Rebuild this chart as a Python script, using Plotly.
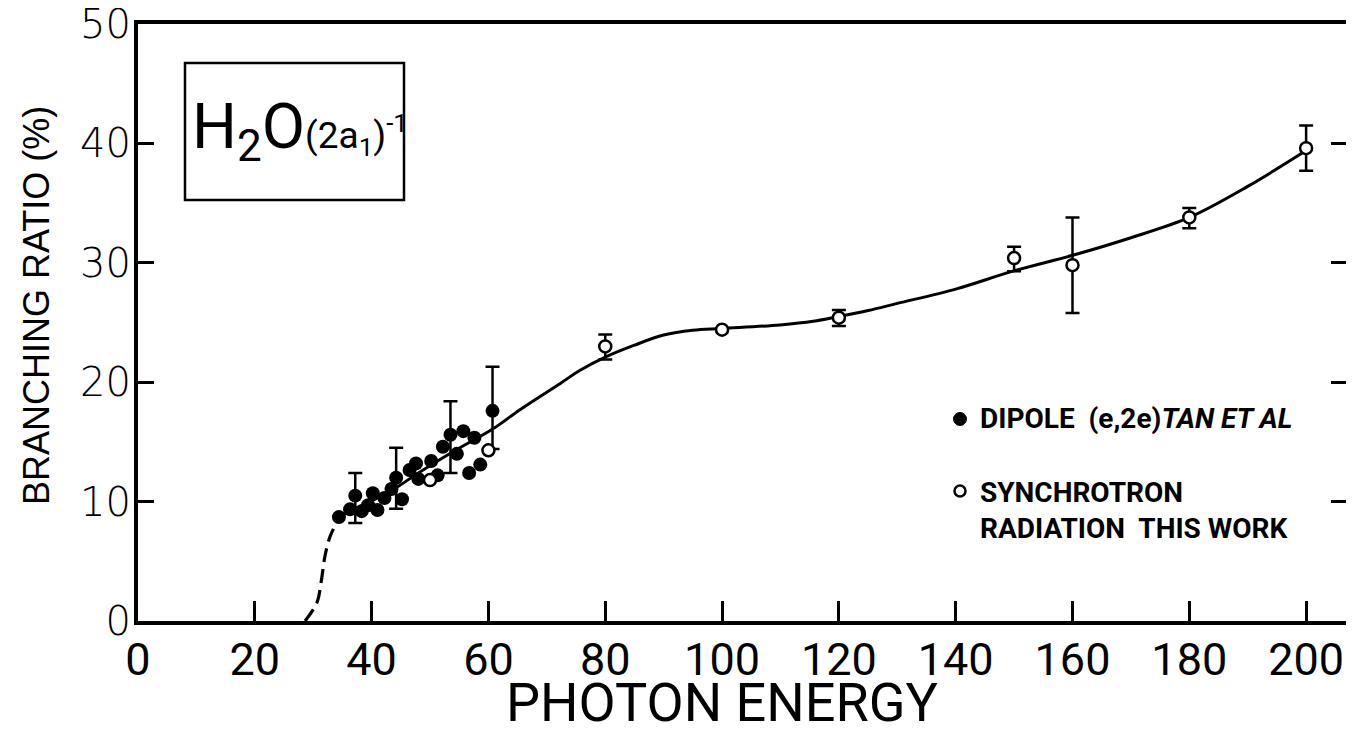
import plotly.graph_objects as go

# ---- data ----
tan_x = [34.4, 36.3, 37.2, 38.3, 39.4, 40.2, 41.0, 42.2, 43.4, 44.2, 45.2, 46.5,
         47.6, 48.0, 50.2, 51.3, 52.2, 53.5, 54.6, 55.7, 56.7, 57.6, 58.6, 60.7]
tan_y = [8.7, 9.35, 10.5, 9.2, 9.7, 10.7, 9.3, 10.3, 11.05, 12.0, 10.2, 12.65,
         13.2, 11.9, 13.4, 12.2, 14.6, 15.6, 14.0, 15.9, 12.4, 15.35, 13.1, 17.6]
tan_err_plus = [None, None, 1.9, None, None, None, None, None, None, 2.5, None, None,
                None, None, None, None, None, 2.8, None, None, None, None, None, 3.7]
tan_err_minus = [None, None, 2.3, None, None, None, None, None, None, 2.6, None, None,
                 None, None, None, None, None, 3.2, None, None, None, None, None, 3.2]

sr_x = [50, 60, 80, 100, 120, 150, 160, 180, 200]
sr_y = [11.8, 14.3, 23.0, 24.4, 25.4, 30.4, 29.8, 33.8, 39.6]
sr_err_plus = [None, None, 1.0, None, 0.65, 0.95, 4.0, 0.8, 1.9]
sr_err_minus = [None, None, 1.1, None, 0.7, 1.1, 4.0, 0.9, 1.9]

curve_x = [34.5, 38, 41, 44, 48, 54, 60.8, 65.4, 72.3, 75.7, 80, 85, 90, 95,
           100, 109.9, 115.6, 120, 125, 130, 140, 149.8, 160.2, 170, 180, 190, 200]
curve_y = [8.8, 9.6, 10.3, 11.1, 12.4, 14.2, 16.1, 17.7, 19.9, 21.0, 22.1, 23.1, 23.95, 24.35,
           24.5, 24.8, 25.1, 25.5, 26.0, 26.6, 27.8, 29.3, 30.65, 32.1, 33.8, 36.4, 39.4]

dash_x = [28.6, 30.6, 31.4, 32.0, 32.9, 34.0]
dash_y = [0.0, 1.5, 3.4, 5.4, 7.1, 8.2]

x_ticks = [0, 20, 40, 60, 80, 100, 120, 140, 160, 180, 200]
x_ticktext = ["0", "20", "40", "60", "80", "100", "120", "140", "160", "180", "200"]
y_ticks = [0, 10, 20, 30, 40, 50]
y_ticktext = ["0", "10", "20", "30", "40", "50"]

NARROW = "Roboto, Liberation Sans, sans-serif"
GEO = "DejaVu Sans, Noto Sans, sans-serif"


def subset(xs, ys, ep, em):
    ox, oy, op, om = [], [], [], []
    for a, b, c, d in zip(xs, ys, ep, em):
        if c is not None:
            ox.append(a); oy.append(b); op.append(c); om.append(d)
    return ox, oy, op, om


fig = go.Figure()

# curves
fig.add_trace(go.Scatter(x=dash_x, y=dash_y, mode="lines",
                         line=dict(color="black", width=3.2, dash="14px,7px", shape="spline"),
                         showlegend=False, hoverinfo="skip"))
fig.add_trace(go.Scatter(x=curve_x, y=curve_y, mode="lines",
                         line=dict(color="black", width=3, shape="spline", smoothing=1.0),
                         showlegend=False, hoverinfo="skip"))

# error bars (only points that have them)
ex, ey, ep, em = subset(tan_x, tan_y, tan_err_plus, tan_err_minus)
fig.add_trace(go.Scatter(x=ex, y=ey, mode="markers", marker=dict(size=1, color="black"),
                         error_y=dict(type="data", symmetric=False, array=ep, arrayminus=em,
                                      color="black", thickness=2.5, width=7),
                         showlegend=False, hoverinfo="skip"))
ex, ey, ep, em = subset(sr_x, sr_y, sr_err_plus, sr_err_minus)
fig.add_trace(go.Scatter(x=ex, y=ey, mode="markers", marker=dict(size=1, color="black"),
                         error_y=dict(type="data", symmetric=False, array=ep, arrayminus=em,
                                      color="black", thickness=2.5, width=7),
                         showlegend=False, hoverinfo="skip"))

# markers
fig.add_trace(go.Scatter(x=tan_x, y=tan_y, mode="markers", name="DIPOLE (e,2e) TAN ET AL",
                         marker=dict(size=14, color="black", line=dict(width=0)), showlegend=False))
fig.add_trace(go.Scatter(x=sr_x, y=sr_y, mode="markers", name="SYNCHROTRON RADIATION THIS WORK",
                         marker=dict(size=12, color="white", line=dict(width=2.5, color="black")),
                         showlegend=False))

# right-side mirrored ticks only
fig.add_trace(go.Scatter(x=[None], y=[None], yaxis="y2", showlegend=False, hoverinfo="skip"))

# page body has an 8px default margin: work in screen pixels, convert to figure pixels
OFF = 8
W, H = 1354 - OFF, 734 - OFF
L, T = 138 - OFF, 24 - OFF
R = W - (1347 - OFF)
B = H - (621 - OFF)
pw = W - L - R
ph = H - T - B


def px(xs):
    return (xs - OFF - L) / pw


def py(ys):
    return (H - B - (ys - OFF)) / ph


fig.update_layout(
    width=W, height=H,
    margin=dict(l=L, r=R, t=T, b=B, autoexpand=False),
    paper_bgcolor="white", plot_bgcolor="white",
    xaxis=dict(range=[0, 207], tickvals=x_ticks, ticktext=x_ticktext, showgrid=False, zeroline=False,
               showline=True, linecolor="black", linewidth=4, mirror=True, automargin=False,
               ticks="inside", ticklen=20, tickwidth=2.5, tickcolor="black", ticklabeloverflow="allow",
               tickfont=dict(family=NARROW, size=45, color="black"), ticklabelstandoff=-4),
    yaxis=dict(range=[0, 50], tickvals=y_ticks, ticktext=y_ticktext, showgrid=False, zeroline=False,
               showline=True, linecolor="black", linewidth=4, mirror=True, automargin=False,
               ticks="inside", ticklen=16, tickwidth=2.5, tickcolor="black", ticklabeloverflow="allow",
               tickfont=dict(family=GEO, size=40, color="black", weight=300), ticklabelstandoff=-5),
    yaxis2=dict(range=[0, 50], overlaying="y", side="right", tickvals=y_ticks, showticklabels=False,
                showgrid=False, zeroline=False, showline=False, automargin=False,
                ticks="inside", ticklen=16, tickwidth=2.5, tickcolor="black"),
    showlegend=False,
)

# inset label box
fig.add_shape(type="rect", xref="paper", yref="paper", x0=px(185), x1=px(404), y0=py(200), y1=py(63),
              line=dict(color="black", width=2.5), fillcolor="white", layer="above")
fig.add_annotation(xref="paper", yref="paper", x=px(300), y=py(131), xanchor="center", yanchor="middle",
                   text='H<sub>2</sub>O<span style="font-size:37px">(2a<sub>1</sub>)<sup>-1</sup></span>',
                   showarrow=False, font=dict(family=NARROW, size=63, color="black"))

# axis titles
fig.add_annotation(xref="paper", yref="paper", x=px(36), y=py(306), textangle=-90,
                   xanchor="center", yanchor="middle", text="BRANCHING RATIO (%)",
                   showarrow=False, font=dict(family="Liberation Sans, Arial, sans-serif", size=36, color="black"))
fig.add_annotation(xref="paper", yref="paper", x=px(722), y=py(702), xanchor="center", yanchor="middle",
                   text="PHOTON ENERGY", showarrow=False,
                   font=dict(family=NARROW, size=54, color="black"))

# legend (symbols drawn as pixel-sized shapes, labels as text)
leg_font = dict(family=NARROW, size=28, color="black", weight="bold")
fig.add_shape(type="circle", xref="paper", yref="paper", xsizemode="pixel", ysizemode="pixel",
              xanchor=px(960), yanchor=py(419), x0=-6.5, x1=6.5, y0=-6.5, y1=6.5,
              fillcolor="black", line=dict(color="black", width=1))
fig.add_annotation(xref="paper", yref="paper", x=px(978), y=py(418), xanchor="left", yanchor="middle",
                   text="DIPOLE  (e,2e)<i>TAN ET AL</i>", showarrow=False, font=leg_font)
fig.add_shape(type="circle", xref="paper", yref="paper", xsizemode="pixel", ysizemode="pixel",
              xanchor=px(960), yanchor=py(491), x0=-5.5, x1=5.5, y0=-5.5, y1=5.5,
              fillcolor="white", line=dict(color="black", width=2.5))
fig.add_annotation(xref="paper", yref="paper", x=px(978), y=py(510), xanchor="left", yanchor="middle",
                   align="left", text="SYNCHROTRON<br>RADIATION  THIS WORK", showarrow=False, font=leg_font)

fig.write_html("out.html")
